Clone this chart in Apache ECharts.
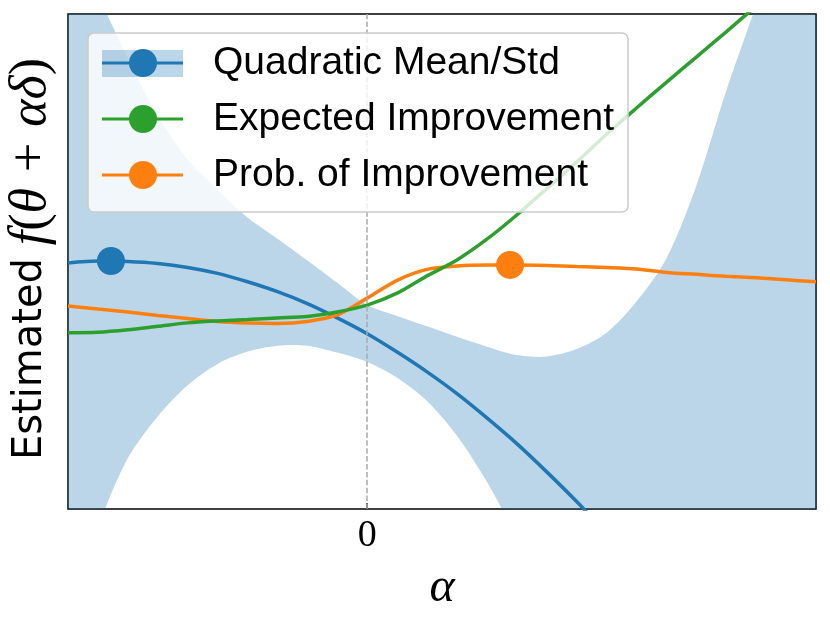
<!DOCTYPE html>
<html>

<head lang="en">
  <meta charset="UTF-8">
  <title>Line search acquisition</title>
  <script src="https://cdn.jsdelivr.net/npm/echarts@6/dist/echarts.min.js"></script>
  <style>
  html, body {
    margin: 0;
    padding: 0;
    background: #fff;
  }
  #section {
    width: 830px;
    height: 619px;
  }
  </style>
</head>

<body>
  <div id="section"></div>
</body>
<script>
var myCharts = echarts.init(document.getElementById("section"));

// sample positions along alpha
var alphas = [-2.0, -1.8, -1.6, -1.4, -1.2, -1.0, -0.8, -0.6, -0.4, -0.2,
  0.0, 0.2, 0.4, 0.6, 0.8, 1.0, 1.2, 1.4, 1.6, 1.8,
  2.0, 2.2, 2.4, 2.6, 2.8, 3.0];

// quadratic mean (only down to where it leaves the plot)
var meanValues = [4.97, 5.01, 5.00, 4.96, 4.88, 4.76, 4.59, 4.39, 4.15, 3.86,
  3.54, 3.17, 2.77, 2.33, 1.84, 1.32, 0.75, 0.15, -0.50, -1.18];

// std band edges
var bandUpper = [12.0, 10.42, 9.10, 7.94, 7.06, 6.45, 5.89, 5.46, 5.02, 4.57,
  4.12, 3.90, 3.69, 3.48, 3.28, 3.11, 3.08, 3.23, 3.56, 4.19,
  5.06, 6.53, 8.45, 10.18, 12.0, 13.9];
var bandLower = [-1.84, -0.34, 1.03, 1.87, 2.50, 2.93, 3.18, 3.30, 3.30, 3.16,
  2.97, 2.65, 2.18, 1.48, 0.55, -0.58, -1.80, -3.25, -4.80, -6.50,
  -8.40, -10.5, -12.8, -15.3, -18.0, -21.0];

// expected improvement
var eiValues = [3.56, 3.57, 3.62, 3.69, 3.76, 3.80, 3.83, 3.86, 3.89, 3.98,
  4.12, 4.36, 4.71, 5.03, 5.45, 5.94, 6.47, 7.01, 7.57, 8.10,
  8.62, 9.13, 9.64, 10.16, 10.67, 11.18];

// probability of improvement
var piValues = [4.10, 4.04, 3.98, 3.91, 3.85, 3.79, 3.76, 3.75, 3.79, 3.92,
  4.26, 4.62, 4.84, 4.91, 4.93, 4.93, 4.92, 4.90, 4.88, 4.85,
  4.78, 4.74, 4.70, 4.67, 4.63, 4.59];

// chosen points
var meanBest = [-1.713, 5.01];
var piBest = [0.955, 4.93];

var xTicks = [0];
var legendNames = ['Quadratic Mean/Std', 'Expected Improvement', 'Prob. of Improvement'];

var BLUE = '#1f77b4';
var ORANGE = '#ff7f0e';
var GREEN = '#2ca02c';

var pairs = function(values) {
  var out = [];
  for (var i = 0; i < values.length; i++) {
    out.push([alphas[i], values[i]]);
  }
  return out;
};

// band: upper edge left->right then lower edge right->left, as one polygon
var renderBand = function(params, api) {
  var pts = [];
  for (var i = 0; i < alphas.length; i++) {
    pts.push(api.coord([alphas[i], bandUpper[i]]));
  }
  for (var j = alphas.length - 1; j >= 0; j--) {
    pts.push(api.coord([alphas[j], bandLower[j]]));
  }
  var cs = params.coordSys;
  return {
    type: 'polygon',
    shape: { points: pts, smooth: 0.3 },
    style: { fill: 'rgba(31,119,180,0.3)' },
    clipPath: {
      type: 'rect',
      shape: { x: cs.x, y: cs.y, width: cs.width, height: cs.height }
    },
    silent: true
  };
};

// hand drawn legend box (matplotlib style)
var legendRows = [63, 119, 175];
var legendColors = [BLUE, GREEN, ORANGE];
var legendGraphics = [{
  type: 'rect',
  shape: { x: 88, y: 33, width: 540, height: 179, r: 6 },
  style: { fill: 'rgba(255,255,255,0.8)', stroke: '#cccccc', lineWidth: 1.5 },
  z: 100
}, {
  type: 'rect',
  shape: { x: 102, y: 50, width: 81, height: 27 },
  style: { fill: 'rgba(31,119,180,0.3)' },
  z: 101
}];
legendRows.forEach(function(y, k) {
  legendGraphics.push({
    type: 'line',
    shape: { x1: 102, y1: y, x2: 183, y2: y },
    style: { stroke: legendColors[k], lineWidth: 3 },
    z: 102
  });
  legendGraphics.push({
    type: 'circle',
    shape: { cx: 143, cy: y, r: 14 },
    style: { fill: legendColors[k] },
    z: 103
  });
  legendGraphics.push({
    type: 'text',
    x: 213,
    y: y,
    style: {
      text: legendNames[k],
      fill: '#000',
      font: '39px "Liberation Sans", Arial, sans-serif',
      verticalAlign: 'middle',
      align: 'left'
    },
    z: 103
  });
});

// y axis title, rotated
legendGraphics.push({
  type: 'text',
  x: 31,
  y: 259,
  rotation: Math.PI / 2,
  style: {
    text: '{s|Estimated\u00a0}{i|f}{r|(}{i|θ}{p|+}{i|αδ}{r|)}',
    align: 'center',
    verticalAlign: 'middle',
    fill: '#000',
    rich: {
      s: { fontFamily: '"DejaVu Sans", sans-serif', fontSize: 40, fill: '#000' },
      i: { fontFamily: '"Liberation Serif", serif', fontStyle: 'italic', fontSize: 52, fill: '#000' },
      r: { fontFamily: '"Liberation Serif", serif', fontSize: 52, fill: '#000' },
      p: { fontFamily: '"Liberation Serif", serif', fontSize: 52, fill: '#000', padding: [0, 16] }
    }
  },
  z: 50
});

option = {
  animation: false,
  backgroundColor: '#fff',
  grid: {
    left: 68,
    right: 14,
    top: 14,
    bottom: 110,
    show: true,
    borderColor: '#000',
    borderWidth: 1.5,
    outerBoundsMode: 'none'
  },
  xAxis: {
    type: 'value',
    min: -2,
    max: 3,
    name: 'α',
    nameLocation: 'middle',
    nameGap: 55,
    nameTextStyle: {
      fontFamily: '"Liberation Serif", serif',
      fontStyle: 'italic',
      fontSize: 48,
      color: '#000'
    },
    axisLine: { show: false },
    splitLine: { show: false },
    axisTick: {
      show: true,
      inside: true,
      length: 6,
      customValues: xTicks,
      lineStyle: { color: '#000', width: 1.5 }
    },
    axisLabel: {
      customValues: xTicks,
      margin: 8,
      fontFamily: '"Liberation Serif", serif',
      fontSize: 38,
      color: '#000',
      formatter: function(v) {
        return String(v);
      }
    }
  },
  yAxis: {
    type: 'value',
    min: 0,
    max: 10,
    axisLine: { show: false },
    axisTick: { show: false },
    axisLabel: { show: false },
    splitLine: { show: false }
  },
  graphic: legendGraphics,
  series: [{
    name: 'band',
    type: 'custom',
    renderItem: renderBand,
    data: [0],
    silent: true,
    z: 1,
    markLine: {
      silent: true,
      symbol: 'none',
      label: { show: false },
      lineStyle: { color: '#aaaaaa', type: [5.5, 2.4], width: 1.5 },
      data: [{ xAxis: 0 }]
    }
  }, {
    name: legendNames[0],
    type: 'line',
    data: pairs(meanValues),
    smooth: 0.3,
    symbol: 'none',
    lineStyle: { color: BLUE, width: 3.5 },
    z: 2
  }, {
    name: legendNames[2],
    type: 'line',
    data: pairs(piValues),
    smooth: 0.3,
    symbol: 'none',
    lineStyle: { color: ORANGE, width: 3.5 },
    z: 2
  }, {
    name: legendNames[1],
    type: 'line',
    data: pairs(eiValues),
    smooth: 0.3,
    symbol: 'none',
    lineStyle: { color: GREEN, width: 3.5 },
    z: 2
  }, {
    type: 'scatter',
    data: [meanBest],
    symbolSize: 28,
    itemStyle: { color: BLUE, opacity: 1 },
    z: 3
  }, {
    type: 'scatter',
    data: [piBest],
    symbolSize: 28,
    itemStyle: { color: ORANGE, opacity: 1 },
    z: 3
  }]
};

myCharts.setOption(option);
</script>

</html>
